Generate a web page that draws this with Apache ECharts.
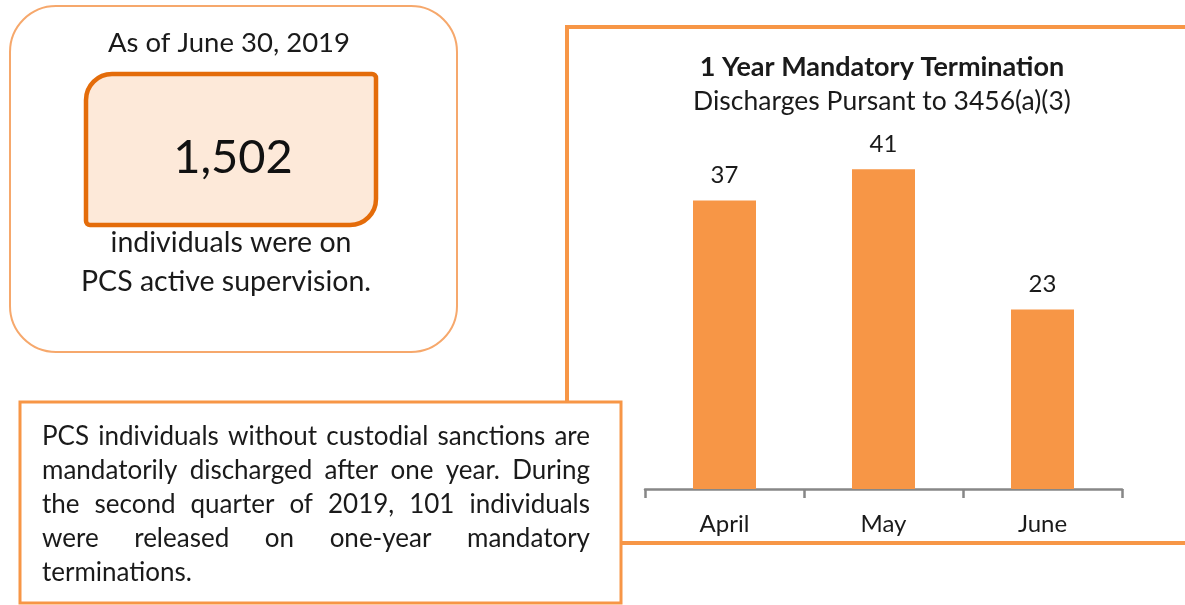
<!DOCTYPE html>
<html>
<head>
<meta charset="utf-8">
<script src="https://cdn.jsdelivr.net/npm/echarts@6/dist/echarts.min.js"></script>
<style>
    html,body{margin:0;padding:0;background:#fff;}
    #main{width:1185px;height:605px;}
</style>
</head>
<body>
<div id="main"></div>
<script>
/*数据*/
var categories = ['April', 'May', 'June'];
var discharges = [37, 41, 23];
var chartTitle = '1 Year Mandatory Termination';
var chartSubtitle = 'Discharges Pursant to 3456(a)(3)';
var asOfText = 'As of June 30, 2019';
var activeTotal = '1,502';
var activeLines = ['individuals were on', 'PCS active supervision.'];
var noteLines = [
    'PCS individuals without custodial sanctions are',
    'mandatorily discharged after one year. During',
    'the second quarter of 2019, 101 individuals',
    'were released on one-year mandatory',
    'terminations.'
];

var FONT = 'Lato, "Open Sans", sans-serif';
var ctx = document.createElement('canvas').getContext('2d');

/*两端对齐 一行拆成单词*/
function justifyLine(str, x, y, width, size, last) {
    ctx.font = size + 'px ' + FONT;
    var words = str.split(' ');
    var out = [];
    if (last || words.length < 2) {
        out.push({type: 'text', style: {text: str, x: x, y: y, fontSize: size, fontFamily: FONT,
            fill: '#1a1a1a', textVerticalAlign: 'middle'}});
        return out;
    }
    var total = 0, ws = [];
    for (var i = 0; i < words.length; i++) {
        ws[i] = ctx.measureText(words[i]).width;
        total += ws[i];
    }
    var gap = (width - total) / (words.length - 1);
    var cx = x;
    for (var j = 0; j < words.length; j++) {
        out.push({type: 'text', style: {text: words[j], x: cx, y: y, fontSize: size, fontFamily: FONT,
            fill: '#1a1a1a', textVerticalAlign: 'middle'}});
        cx += ws[j] + gap;
    }
    return out;
}

var graphics = [
    // 图表外框
    {type: 'rect', z: 0, shape: {x: 567, y: 27, width: 640, height: 516},
        style: {fill: 'none', stroke: '#F79646', lineWidth: 4}},
    // 左上圆角框
    {type: 'rect', shape: {x: 10, y: 6, width: 447, height: 346, r: 46},
        style: {fill: '#fff', stroke: '#F6A86C', lineWidth: 2}},
    {type: 'rect', shape: {x: 86, y: 74, width: 290, height: 151, r: [26, 4, 26, 4]},
        style: {fill: '#FDE9D9', stroke: '#E46C0A', lineWidth: 4.5}},
    {type: 'text', style: {text: asOfText, x: 229, y: 43, fontSize: 27.5, fontFamily: FONT,
        fill: '#1a1a1a', textAlign: 'center', textVerticalAlign: 'middle'}},
    {type: 'text', style: {text: activeTotal, x: 233, y: 158, fontSize: 47, fontFamily: FONT,
        fill: '#111', textAlign: 'center', textVerticalAlign: 'middle'}},
    {type: 'text', style: {text: activeLines[0], x: 231, y: 243, fontSize: 28.5, fontFamily: FONT,
        fill: '#1a1a1a', textAlign: 'center', textVerticalAlign: 'middle'}},
    {type: 'text', style: {text: activeLines[1], x: 226, y: 282, fontSize: 28.5, fontFamily: FONT,
        fill: '#1a1a1a', textAlign: 'center', textVerticalAlign: 'middle'}},
    // 说明文字框
    {type: 'rect', z: 5, shape: {x: 20, y: 402, width: 601, height: 201},
        style: {fill: '#fff', stroke: '#F79646', lineWidth: 3}}
];

var noteTop = 437, noteStep = 34;
for (var k = 0; k < noteLines.length; k++) {
    var items = justifyLine(noteLines[k], 42, noteTop + k * noteStep, 548, 26, k === noteLines.length - 1);
    for (var m = 0; m < items.length; m++) {
        items[m].z = 6;
        graphics.push(items[m]);
    }
}

var chart = echarts.init(document.getElementById('main'));
var option = {
    animation: false,
    title: {
        text: chartTitle,
        subtext: chartSubtitle,
        left: 877,
        top: 49,
        textAlign: 'center',
        itemGap: 7,
        textStyle: {fontFamily: FONT, fontSize: 27, fontWeight: 'bold', color: '#1a1a1a'},
        subtextStyle: {fontFamily: FONT, fontSize: 26.5, color: '#1a1a1a'}
    },
    grid: {left: 645, width: 477, top: 99, bottom: 116},
    xAxis: {
        type: 'category',
        data: categories,
        axisLine: {lineStyle: {color: '#878787', width: 2.5}},
        axisTick: {show: true, length: 9, lineStyle: {color: '#878787', width: 2.5}},
        axisLabel: {fontFamily: FONT, fontSize: 24, color: '#1a1a1a', margin: 23}
    },
    yAxis: {
        type: 'value',
        min: 0,
        max: 50,
        show: false,
        splitLine: {show: false}
    },
    series: [{
        type: 'bar',
        data: discharges,
        barWidth: 63,
        itemStyle: {color: '#F79646'},
        label: {show: true, position: 'top', distance: 13, fontFamily: FONT, fontSize: 24, color: '#1a1a1a'}
    }],
    graphic: graphics
};
chart.setOption(option);
</script>
</body>
</html>
